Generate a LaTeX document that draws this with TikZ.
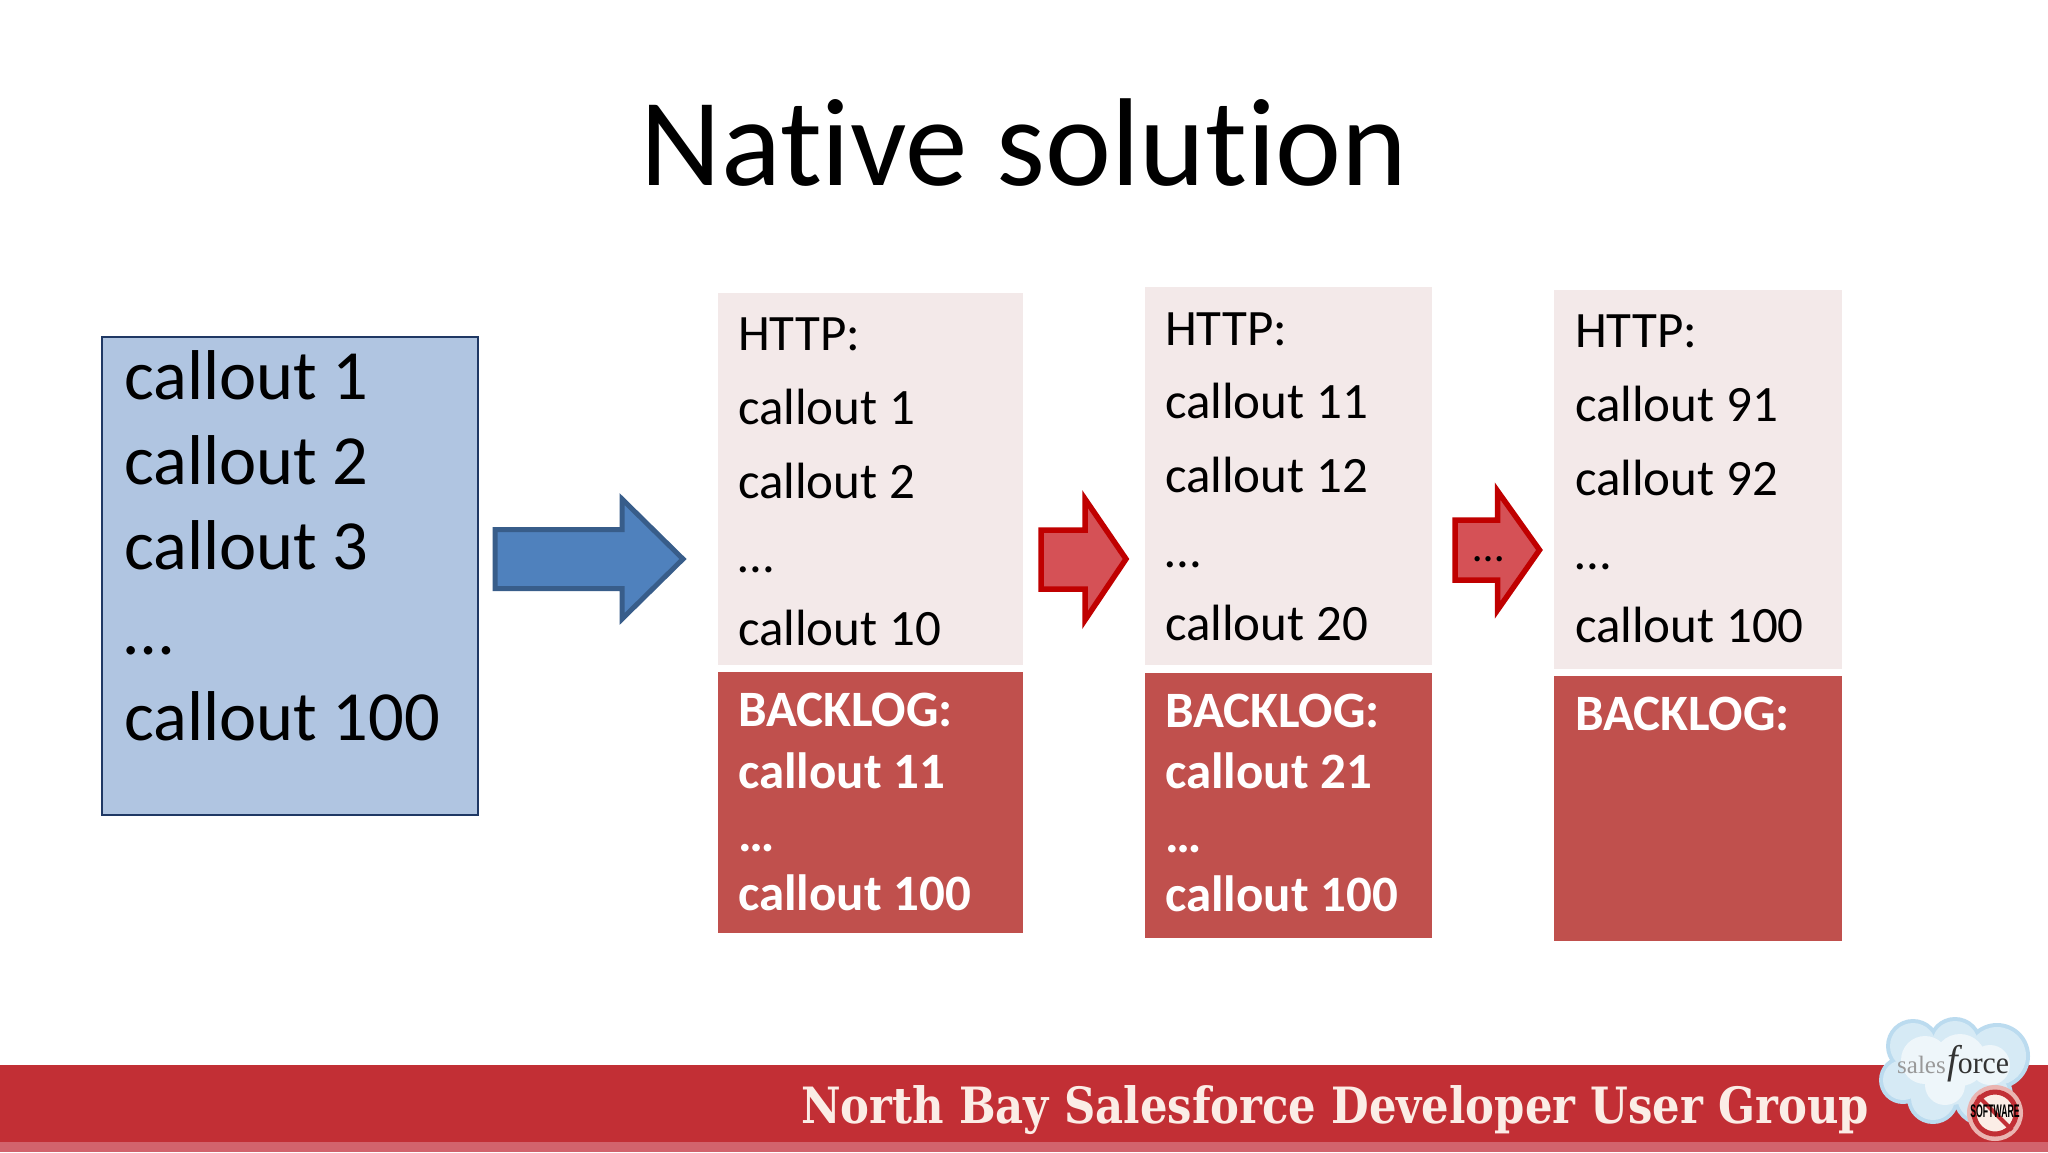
\documentclass[tikz,border=0pt]{standalone}
\usepackage{fontspec}
\setmainfont{Carlito}[Ligatures=NoCommon]
\newfontfamily\slabfont{DejaVu Serif}
\newfontfamily\logofont{Liberation Serif}
\newfontfamily\tagfont{Liberation Sans}
\definecolor{boxblue}{HTML}{B0C5E1}
\definecolor{boxnavy}{HTML}{1F3864}
\definecolor{httppink}{HTML}{F3E9E9}
\definecolor{backlogred}{HTML}{C0504D}
\definecolor{arrowblue}{HTML}{4F81BD}
\definecolor{arrowblueline}{HTML}{385D8A}
\definecolor{arrowred}{HTML}{D55156}
\definecolor{arrowredline}{HTML}{C00000}
\definecolor{barred}{HTML}{C22F35}
\definecolor{barpink}{HTML}{D2636C}
\definecolor{cloudrim}{HTML}{BBDBEF}
\definecolor{cloudmid}{HTML}{D6EAF5}
\definecolor{cloudcore}{HTML}{EEF6FA}
\definecolor{footertext}{HTML}{FBEDE6}
\newcommand{\fs}[1]{\fontsize{#1}{#1}\selectfont}
\tikzset{
  line/.style={anchor=base west,inner sep=0pt,outer sep=0pt,font=\fs{51}},
  bigline/.style={anchor=base west,inner sep=0pt,outer sep=0pt,font=\fs{70.5}},
  boldline/.style={anchor=base west,inner sep=0pt,outer sep=0pt,text=white,font=\fs{51}\bfseries},
  httpbox/.style={fill=httppink,draw=none},
  backlogbox/.style={fill=backlogred,draw=none},
  bluearrow/.style={fill=arrowblue,draw=arrowblueline,line width=5pt,miter limit=10},
  redarrow/.style={fill=arrowred,draw=arrowredline,line width=5.5pt,miter limit=10},
}
\begin{document}
\begin{tikzpicture}[x=1pt,y=-1pt]
\useasboundingbox (0,0) rectangle (2048,1152);
\fill[white] (0,0) rectangle (2048,1152);
% title
\node[anchor=base,inner sep=0pt,font=\fs{125}] (title) at (1024,185) {Native solution};
% source box
\draw[fill=boxblue,draw=boxnavy,line width=2.5pt] (102,337) rectangle (478,815);
\node[bigline] (s1) at (124,399) {callout 1};
\node[bigline] (s2) at (124,484) {callout 2};
\node[bigline] (s3) at (124,569) {callout 3};
\node[bigline] (s4) at (124,654) {…};
\node[bigline] (s5) at (124,740) {callout 100};
% column 1
\fill[httpbox] (718,293) rectangle (1023,665);
\fill[backlogbox] (718,672) rectangle (1023,933);
\node[line] (a1) at (738,350) {HTTP:};
\node[line] (a2) at (738,424) {callout 1};
\node[line] (a3) at (738,498) {callout 2};
\node[line] (a4) at (738,572) {…};
\node[line] (a5) at (738,645) {callout 10};
\node[boldline] (b1) at (738,726) {BACKLOG:};
\node[boldline] (b2) at (738,788) {callout 11};
\node[boldline] (b3) at (738,851) {…};
\node[boldline] (b4) at (738,910) {callout 100};
% column 2
\fill[httpbox] (1145,287) rectangle (1432,665);
\fill[backlogbox] (1145,673) rectangle (1432,938);
\node[line] (c1) at (1165,345) {HTTP:};
\node[line] (c2) at (1165,418) {callout 11};
\node[line] (c3) at (1165,492) {callout 12};
\node[line] (c4) at (1165,567) {…};
\node[line] (c5) at (1165,640) {callout 20};
\node[boldline] (d1) at (1165,727) {BACKLOG:};
\node[boldline] (d2) at (1165,788) {callout 21};
\node[boldline] (d3) at (1165,852) {…};
\node[boldline] (d4) at (1165,911) {callout 100};
% column 3
\fill[httpbox] (1554,290) rectangle (1842,669);
\fill[backlogbox] (1554,676) rectangle (1842,941);
\node[line] (e1) at (1575,347) {HTTP:};
\node[line] (e2) at (1575,421) {callout 91};
\node[line] (e3) at (1575,495) {callout 92};
\node[line] (e4) at (1575,569) {…};
\node[line] (e5) at (1575,642) {callout 100};
\node[boldline] (f1) at (1575,730) {BACKLOG:};
% block arrows
\draw[bluearrow] (495,529.5) -- (622,529.5) -- (622,499) -- (683,559) -- (622,619) -- (622,588.5) -- (495,588.5) -- cycle;
\draw[redarrow] (1041,530) -- (1085,530) -- (1085,499) -- (1126,559) -- (1085,620) -- (1085,589) -- (1041,589) -- cycle;
\draw[redarrow] (1455,520) -- (1497.5,520) -- (1497.5,491) -- (1539.5,550) -- (1497.5,610) -- (1497.5,580) -- (1455,580) -- cycle;
\node[anchor=base,inner sep=0pt,font=\fs{44}] (dots) at (1489,561) {…};
% footer
\fill[barred] (0,1065) rectangle (2048,1142);
\fill[barpink] (0,1142) rectangle (2048,1152);
\node[anchor=base west,inner sep=0pt,text=footertext] (footer) at (801,1123)
  {\scalebox{0.867}[1]{\slabfont\bfseries\fs{50}North Bay Salesforce Developer User Group}};
% logo cloud
\foreach \cx/\cy/\r in {1913/1046/27,1955/1044/27,1997/1056/33,1903/1080/24,1933/1098/26,1983/1096/30,1950/1070/35}
  \fill[cloudrim] (\cx,\cy) circle (\r);
\foreach \cx/\cy/\r in {1913/1046/23,1955/1044/23,1997/1056/29,1903/1080/20,1933/1098/22,1983/1096/26,1950/1070/35}
  \fill[cloudmid] (\cx,\cy) circle (\r);
\foreach \cx/\cy/\r in {1925/1060/24,1960/1060/26,1990/1065/20,1945/1085/20}
  \fill[cloudcore] (\cx,\cy) circle (\r);
\node[anchor=base west,inner sep=0pt,font=\logofont\fs{25},text=gray!80] (sales) at (1897,1073) {sales};
\node[anchor=base west,inner sep=0pt,text=black!80] (force) at (1947,1073)
  {\scalebox{0.96}[1]{\logofont\fs{31}{\itshape\fs{40}f}orce}};
% no-software badge
\fill[footertext!70!barred] (1995,1113) circle (28);
\draw[draw=barred,line width=5pt,fill=footertext] (1995,1113) circle (21);
\draw[barred,line width=4pt] (1978,1096) -- (2012,1130);
\node[inner sep=0pt,text=black] (soft) at (1995,1111)
  {\scalebox{0.62}[1.3]{\tagfont\bfseries\fs{14}SOFTWARE}};
\end{tikzpicture}
\end{document}
